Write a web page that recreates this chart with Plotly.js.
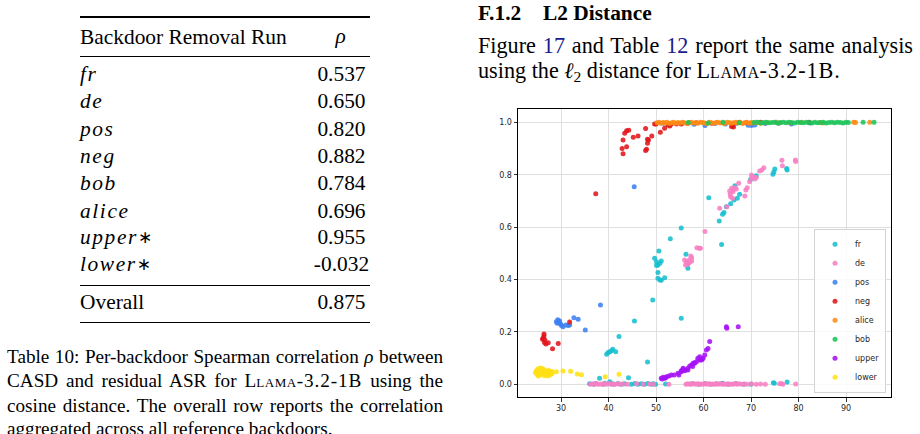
<!DOCTYPE html>
<html><head><meta charset="utf-8">
<script src="https://cdn.plot.ly/plotly-3.0.1.min.js"></script>
<style>
html,body{margin:0;padding:0;background:#fff;}
#page{position:relative;width:920px;height:434px;overflow:hidden;font-family:"Liberation Serif","Times New Roman",serif;color:#000;}
#chart{position:absolute;left:0;top:0;width:920px;height:434px;}
.t{position:absolute;white-space:nowrap;line-height:1.107;}
.rule{position:absolute;left:80px;width:290px;background:#000;}
.mi{font-style:italic;letter-spacing:1.6px;}
.ast{font-style:normal;font-family:"DejaVu Sans",sans-serif;font-size:80%;vertical-align:0.05em;letter-spacing:0;}
.sc{font-variant:small-caps;letter-spacing:0.6px;}
.wd{letter-spacing:0.9px;}
.lnk{color:#1c1c8c;}
</style></head>
<body><div id="page"><div id="chart"></div><div id="txt"></div></div>
<script>
// ---------- table data ----------
const runs = ['fr','de','pos','neg','bob','alice','upper\u2217','lower\u2217'];
const rho = [0.537, 0.650, 0.820, 0.882, 0.784, 0.696, 0.955, -0.032];
const overallRho = 0.875;

// ---------- scatter data (x: CASD distance, y: residual ASR) ----------
const seriesNames = ['fr','de','pos','neg','alice','bob','upper','lower'];

const frX = [36.0,36.9,37.3,38.1,38.9,39.2,40.25,40.7,41.1,42.0,42.7,43.4,44.2,44.8,45.5,46.2,46.9,47.6,48.3,49.0,49.4,49.9,52.0,57.5,59.0,60.3,61.5,62.7,64.0,65.2,66.8,68.5,70.0,74.7,74.9,77.6,
  39.6,39.9,40.25,40.6,40.9,41.5,42.2,45.45,48.2,49.3,
  49.7,50.1,50.4,50.8,51.1,50.6,50.4,50.4,50.8,51.1,51.8,50.1,
  53.0,55.3,56.3,56.7,55.3,
  61.1,63.8,63.3,64.0,64.3,64.8,65.7,66.4,67.1,67.6,66.6,69.9,71.1,74.6,74.8,75.0,77.6,77.5];
const frY = [0.002,0.0,0.003,0.023,0.0,0.004,0.010,0.002,0.0,0.003,0.0,0.002,0.025,0.0,0.003,0.0,0.002,0.0,0.003,0.0,0.002,0.0,0.001,0.002,0.0,0.003,0.0,0.002,0.004,0.0,0.003,0.0,0.0,0.006,0.004,0.009,
  0.115,0.121,0.124,0.128,0.134,0.124,0.182,0.242,0.085,0.322,
  0.481,0.468,0.455,0.462,0.471,0.509,0.427,0.405,0.398,0.397,0.407,0.453,
  0.556,0.597,0.496,0.443,0.252,
  0.712,0.534,0.623,0.649,0.656,0.678,0.689,0.703,0.710,0.725,0.758,0.782,0.796,0.802,0.810,0.822,0.818,0.824];

const deX = [36.2,36.6,37.0,37.4,37.8,38.3,38.7,39.1,39.6,40.0,40.5,41.0,41.4,41.9,42.4,43.0,44.0,45.9,47.3,48.6,49.5,52.7,
  56.3,56.7,57.1,57.5,57.9,58.3,58.7,59.1,59.5,59.9,60.3,60.7,61.1,61.5,61.9,62.3,62.7,63.1,63.5,63.9,64.3,64.7,65.1,65.5,65.9,66.3,66.7,67.1,67.5,68.0,68.6,69.2,70.1,71.1,72.0,73.0,76.0,76.4,76.7,79.4,
  56.4,56.7,57.1,57.5,57.0,56.7,56.4,57.5,56.0,56.2,57.3,58.6,59.05,59.35,60.3,63.4,64.9,
  65.5,65.9,66.2,66.6,65.7,66.1,66.2,66.9,65.6,67.4,68.7,68.9,69.2,69.7,70.1,70.4,70.8,71.1,70.1,71.8,72.3,72.7,76.5,76.6,79.35,79.4];
const deY = [0.0,0.002,0.0,0.003,0.0,0.001,0.0,0.002,0.0,0.003,0.0,0.001,0.0,0.002,0.0,0.001,0.0,0.002,0.0,0.001,0.0,0.0,
  0.0,0.002,0.0,0.001,0.003,0.0,0.002,0.0,0.001,0.0,0.003,0.0,0.002,0.0,0.001,0.0,0.002,0.0,0.003,0.0,0.001,0.0,0.002,0.0,0.001,0.0,0.003,0.0,0.002,0.0,0.001,0.0,0.002,0.0,0.001,0.0,0.002,0.003,0.0,0.001,
  0.468,0.462,0.466,0.471,0.474,0.458,0.466,0.483,0.474,0.455,0.490,0.521,0.519,0.519,0.583,0.672,0.678,
  0.738,0.748,0.742,0.750,0.716,0.710,0.735,0.745,0.725,0.767,0.719,0.742,0.750,0.773,0.786,0.792,0.784,0.789,0.799,0.814,0.818,0.827,0.855,0.834,0.856,0.850];

const posX = [29.0,29.4,29.7,29.2,29.6,30.1,30.4,31.0,31.5,31.8,32.7,33.6,35.1,38.3,45.4,29.3,29.9,
  51.5,53.0,55.6,58.0,60.3,62.4,64.6,66.9,69.4,70.1,70.8,73.0,75.8,78.5,82.4];
const posY = [0.239,0.242,0.242,0.233,0.235,0.224,0.220,0.226,0.224,0.226,0.254,0.248,0.207,0.303,0.754,0.246,0.230,
  0.996,0.994,0.997,0.993,0.988,0.995,0.994,0.996,0.989,0.988,0.990,0.995,0.996,0.994,0.997];

const negX = [26.4,26.4,26.2,26.1,26.6,26.5,26.8,27.3,28.2,29.4,31.8,
  37.3,43.05,42.85,43.05,43.8,43.4,43.8,44.25,45.2,46.2,47.8,48.2,48.4,48.2,48.0,47.8,49.1,49.7,50.0,50.9,51.8,52.5,52.9,53.2,54.3,55.3,56.7,58.5,61.7,65.9,66.1,66.3,67.6,69.0,72.0,82.2];
const negY = [0.192,0.184,0.176,0.172,0.169,0.160,0.154,0.159,0.136,0.156,0.238,
  0.727,0.880,0.900,0.932,0.907,0.958,0.968,0.970,0.943,0.948,0.976,0.935,0.932,0.920,0.897,0.892,0.948,0.994,0.994,0.962,0.977,0.990,0.986,0.994,0.994,0.994,0.996,0.998,0.996,0.984,0.988,0.982,1.0,0.998,1.0,1.0];

const aliceX = [50.2,50.6,51.0,51.5,51.9,52.3,52.8,53.3,53.7,54.2,54.6,55.1,55.6,56.0,56.5,57.0,57.4,57.9,58.4,58.8,59.3,59.8,60.2,60.7,61.2,61.6,62.1,62.6,63.0,63.5,64.0,64.4,64.9,65.4,65.8,66.3,66.8,67.2,67.7,68.2,68.6,69.1,69.6,70.0,70.5,71.0,71.5,72.1,73.4,75.3,76.0,78.2,80.6,84.5,85.1,91.6,92.0,95.0];
const aliceY = [0.998,1.0,0.996,0.999,0.997,1.0,0.995,0.998,1.0,0.996,0.999,0.997,1.0,0.998,0.995,0.999,1.0,0.997,0.998,0.996,1.0,0.999,0.997,0.995,1.0,0.998,0.996,0.999,1.0,0.997,0.998,0.995,1.0,0.999,0.996,0.998,1.0,0.997,0.999,0.995,0.998,1.0,0.996,0.999,0.997,1.0,0.998,0.996,0.999,1.0,0.997,0.998,1.0,0.999,0.997,1.0,0.999,1.0];

const bobX = [56.8,61.0,64.1,67.5,70.6,71.4,72.0,72.6,73.2,73.8,74.4,75.0,75.6,76.2,76.8,77.4,78.0,78.6,79.2,79.8,80.4,81.0,81.6,82.2,82.8,83.4,84.0,84.6,85.2,85.8,86.4,87.0,87.6,88.2,88.8,89.4,90.0,90.5,93.6,95.9];
const bobY = [0.999,0.997,1.0,0.998,0.999,1.0,0.997,0.999,1.0,0.998,0.999,1.0,0.997,0.999,1.0,0.998,1.0,0.999,0.997,1.0,0.999,0.998,1.0,0.999,0.997,1.0,0.998,0.999,1.0,0.997,0.999,1.0,0.998,1.0,0.999,0.997,1.0,0.999,1.0,1.0];

const upperX = [51.1,51.5,51.8,52.2,52.7,53.2,53.8,54.6,55.3,55.7,56.2,56.7,57.5,58.1,58.5,59.2,55.3,55.7,56.0,56.7,57.8,58.1,58.8,59.2,59.55,59.9,60.25,60.6,60.95,61.3,64.8,64.9,67.3,51.3,52.0,57.7,59.7,54.8,57.1];
const upperY = [0.023,0.027,0.023,0.029,0.032,0.035,0.035,0.042,0.052,0.057,0.055,0.061,0.074,0.080,0.086,0.093,0.048,0.061,0.052,0.055,0.080,0.082,0.099,0.105,0.093,0.099,0.112,0.131,0.137,0.163,0.220,0.214,0.220,0.020,0.025,0.068,0.096,0.035,0.070];

const lowerX = [24.6,24.8,25.0,25.1,25.3,25.5,25.6,25.8,25.9,26.1,26.2,26.4,26.5,26.7,26.8,27.0,27.1,27.3,27.4,27.6,27.7,27.9,28.0,25.2,26.0,24.9,27.2,28.1,
  29.0,30.4,32.0,33.4,34.3,39.3,42.2];
const lowerY = [0.045,0.052,0.040,0.058,0.048,0.035,0.062,0.044,0.053,0.038,0.047,0.056,0.033,0.042,0.050,0.037,0.045,0.054,0.040,0.048,0.035,0.043,0.050,0.032,0.060,0.038,0.032,0.041,
  0.048,0.051,0.050,0.039,0.036,0.029,0.038];

const xTicks = [30,40,50,60,70,80,90];
const yTicks = [0.0,0.2,0.4,0.6,0.8,1.0];

// ---------- styles ----------
const seriesColors = ['#17becf','#f77fc3','#3c82f0','#e0161b','#ff8a12','#1dc45a','#a511f5','#ffe014'];
const seriesData = [[frX,frY],[deX,deY],[posX,posY],[negX,negY],[aliceX,aliceY],[bobX,bobY],[upperX,upperY],[lowerX,lowerY]];

const traces = seriesNames.map((n,i)=>({
  type:'scatter', mode:'markers', name:n,
  x:seriesData[i][0], y:seriesData[i][1],
  marker:{color:seriesColors[i], size:5, opacity:0.88, line:{width:0}}
}));

const tickFont = {family:'DejaVu Sans, sans-serif', size:8, color:'#262626'};
const layout = {
  width:920, height:434,
  margin:{l:518, r:29, t:109, b:37, pad:0},
  paper_bgcolor:'rgba(0,0,0,0)', plot_bgcolor:'#ffffff',
  showlegend:true,
  xaxis:{range:[20.93,99.47], tickvals:xTicks, ticktext:xTicks.map(String), showgrid:true, gridcolor:'#dfdfdf', gridwidth:1,
    zeroline:false, showline:true, linecolor:'#000', linewidth:1, mirror:true, ticks:'outside', ticklen:3.5, tickcolor:'#000', tickwidth:0.8, tickfont:tickFont},
  yaxis:{range:[-0.0485,1.0508], tickvals:yTicks, ticktext:yTicks.map(v=>v.toFixed(1)), showgrid:true, gridcolor:'#dfdfdf', gridwidth:1,
    zeroline:false, showline:true, linecolor:'#000', linewidth:1, mirror:true, ticks:'outside', ticklen:3.5, tickcolor:'#000', tickwidth:0.8, tickfont:tickFont},
  legend:{x:0.7936, xanchor:'left', y:0.015, yanchor:'bottom', bgcolor:'rgba(255,255,255,0.85)', bordercolor:'#d4d4d4', borderwidth:1,
    font:{family:'DejaVu Sans, sans-serif', size:8, color:'#262626'}, itemwidth:30, tracegroupgap:0}
};
Plotly.newPlot('chart', traces, layout, {staticPlot:true, displayModeBar:false});

// ---------- text (table, caption, section) ----------
const txt = document.getElementById('txt');
function put(html, x, baseline, fs, extra){
  const d = document.createElement('div');
  d.className = 't';
  d.style.left = x + 'px';
  d.style.top = (baseline - 0.891*fs) + 'px';
  d.style.fontSize = fs + 'px';
  if (extra) Object.assign(d.style, extra);
  d.innerHTML = html;
  txt.appendChild(d);
  return d;
}
function rule(y, h){
  const r = document.createElement('div');
  r.className = 'rule'; r.style.top = y + 'px'; r.style.height = h + 'px';
  txt.appendChild(r);
}
function mathLabel(s){
  return '<span class="mi">' + s.replace('\u2217', '<span class="ast">\u2217</span>') + '</span>';
}
const TFS = 21.4;
rule(16.4, 1.3);
put('Backdoor Removal Run', 80, 44.8, TFS);
put('<span class="mi">\u03c1</span>', 300, 44.0, TFS, {width:'83px', textAlign:'center'});
rule(55.5, 0.9);
const rowBase = [82.2,109.0,137.0,164.5,191.3,218.8,245.5,272.2];
runs.forEach((r,i)=>{
  put(mathLabel(r), 80, rowBase[i], TFS);
  put(rho[i].toFixed(3), 300, rowBase[i], TFS, {width:'83px', textAlign:'center'});
});
rule(284.6, 0.9);
put('Overall', 80, 310.5, TFS);
put(overallRho.toFixed(3), 300, 310.5, TFS, {width:'83px', textAlign:'center'});
rule(321.8, 1.3);

// caption
const CFS = 19.2;
const capLines = [
  'Table 10: Per-backdoor Spearman correlation <i>\u03c1</i> between',
  'CASD and residual ASR for L<span class="sc">lama</span><span class="wd">-3.2-1B</span> using the',
  'cosine distance. The overall row reports the correlation',
  'aggregated across all reference backdoors.'
];
const capBase = [363.3,387.6,411.9,435.6];
capLines.forEach((l,i)=>{
  const ex = i<3 ? {width:'436px', textAlign:'justify', textAlignLast:'justify', whiteSpace:'normal'} : {};
  put(l, 7, capBase[i], CFS, ex);
});

// right text
put('<b>F.1.2</b>', 478, 20.7, 21.4);
put('<b>L2 Distance</b>', 543, 20.7, 21.4);
put('Figure <span class="lnk">17</span> and Table <span class="lnk">12</span> report the same analysis', 478, 53.5, 22.2,
    {width:'435px', textAlign:'justify', textAlignLast:'justify', whiteSpace:'normal'});
put('using the <i>\u2113</i><sub style="font-size:70%;vertical-align:-0.25em">2</sub> distance for L<span class="sc">lama</span><span class="wd">-3.2-1B.</span>', 478, 79.2, 22.2);
</script>
</body></html>
